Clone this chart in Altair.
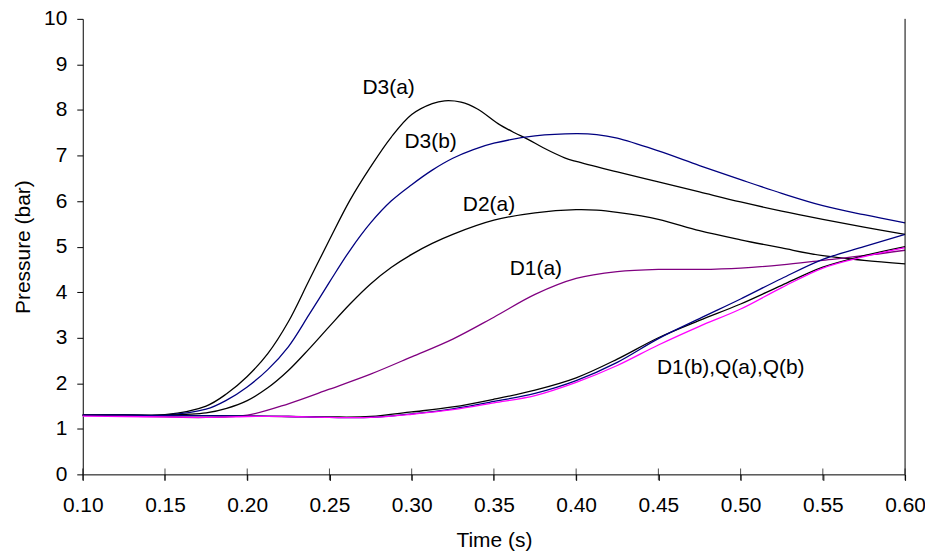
import altair as alt
import pandas as pd

# ---- data ----
T_D3A = [0.10, 0.125, 0.15, 0.175, 0.1875, 0.20, 0.2125, 0.225, 0.2375, 0.25, 0.2625, 0.275,
         0.2875, 0.30, 0.3125, 0.32, 0.33, 0.34, 0.3525, 0.3625, 0.371, 0.38, 0.393, 0.40,
         0.425, 0.45, 0.475, 0.50, 0.525, 0.55, 0.575, 0.60]
P_D3A = [1.30, 1.30, 1.31, 1.50, 1.77, 2.15, 2.65, 3.35, 4.25, 5.15, 6.02, 6.75,
         7.40, 7.90, 8.14, 8.20, 8.17, 8.02, 7.70, 7.50, 7.35, 7.17, 6.95, 6.87,
         6.64, 6.42, 6.20, 5.98, 5.78, 5.60, 5.43, 5.27]

T_D3B = [0.10, 0.125, 0.15, 0.175, 0.1875, 0.20, 0.2125, 0.225, 0.2375, 0.25, 0.2625, 0.275,
         0.2875, 0.30, 0.3125, 0.325, 0.3375, 0.35, 0.375, 0.40, 0.4125, 0.425, 0.45, 0.475,
         0.50, 0.525, 0.55, 0.575, 0.60]
P_D3B = [1.30, 1.30, 1.30, 1.43, 1.63, 1.92, 2.30, 2.80, 3.50, 4.22, 4.92, 5.52,
         6.00, 6.36, 6.68, 6.94, 7.13, 7.27, 7.43, 7.48, 7.46, 7.38, 7.10, 6.78,
         6.47, 6.17, 5.90, 5.70, 5.52]

T_D2A = [0.10, 0.125, 0.15, 0.175, 0.1875, 0.20, 0.2125, 0.225, 0.2375, 0.25, 0.2625, 0.275,
         0.2875, 0.30, 0.3125, 0.325, 0.35, 0.375, 0.40, 0.4125, 0.425, 0.45, 0.475, 0.50,
         0.525, 0.55, 0.575, 0.60]
P_D2A = [1.30, 1.30, 1.30, 1.35, 1.45, 1.62, 1.90, 2.28, 2.75, 3.25, 3.74, 4.18,
         4.54, 4.83, 5.07, 5.27, 5.58, 5.74, 5.81, 5.80, 5.75, 5.60, 5.35, 5.15,
         4.97, 4.80, 4.70, 4.62]

T_LOW = [0.10, 0.125, 0.15, 0.175, 0.20, 0.225, 0.25, 0.275, 0.30, 0.325, 0.35, 0.375,
         0.40, 0.425, 0.45, 0.475, 0.50, 0.525, 0.55, 0.575, 0.60]
P_D1A = [1.30, 1.28, 1.26, 1.25, 1.30, 1.55, 1.87, 2.20, 2.58, 2.97, 3.45, 3.95,
         4.30, 4.45, 4.50, 4.50, 4.53, 4.60, 4.70, 4.80, 4.92]
P_QA = [1.30, 1.30, 1.29, 1.29, 1.28, 1.27, 1.26, 1.27, 1.37, 1.48, 1.65, 1.85,
        2.12, 2.53, 3.00, 3.38, 3.74, 4.15, 4.55, 4.80, 5.00]
P_D1B = [1.30, 1.30, 1.29, 1.29, 1.28, 1.27, 1.25, 1.25, 1.33, 1.44, 1.60, 1.78,
         2.06, 2.46, 2.98, 3.42, 3.85, 4.30, 4.72, 5.00, 5.27]
P_QB = [1.28, 1.27, 1.26, 1.25, 1.27, 1.27, 1.25, 1.25, 1.32, 1.42, 1.57, 1.73,
        2.02, 2.39, 2.84, 3.25, 3.63, 4.10, 4.53, 4.78, 4.98]

SERIES = ["D1(b)", "Q(b)", "Q(a)", "D1(a)", "D2(a)", "D3(b)", "D3(a)"]
COLORS = ["#000080", "#FF00FF", "#000000", "#800080", "#000000", "#000080", "#000000"]

LABELS = ["D3(a)", "D3(b)", "D2(a)", "D1(a)", "D1(b),Q(a),Q(b)"]
LABEL_T = [0.286, 0.3115, 0.347, 0.3755, 0.494]
LABEL_P = [8.49, 7.29, 5.91, 4.5, 2.34]

XTICKS = [0.10, 0.15, 0.20, 0.25, 0.30, 0.35, 0.40, 0.45, 0.50, 0.55, 0.60]
YTICKS = [0, 1, 2, 3, 4, 5, 6, 7, 8, 9, 10]

# ---- build tables ----
rows = []
def add(name, ts, ps):
    for t, p in zip(ts, ps):
        rows.append({"series": name, "t": t, "p": p})

add("D3(a)", T_D3A, P_D3A)
add("D3(b)", T_D3B, P_D3B)
add("D2(a)", T_D2A, P_D2A)
add("D1(a)", T_LOW, P_D1A)
add("Q(a)", T_LOW, P_QA)
add("D1(b)", T_LOW, P_D1B)
add("Q(b)", T_LOW, P_QB)
df = pd.DataFrame(rows)

lab = pd.DataFrame({"text": LABELS, "t": LABEL_T, "p": LABEL_P})
xt = pd.DataFrame({"t": XTICKS, "p": [YTICKS[0]] * len(XTICKS)})
border = pd.DataFrame({"t": [XTICKS[-1]], "p": [YTICKS[0]], "p2": [YTICKS[-1]]})

FONT = "Liberation Sans"
FS = 21
xscale = alt.Scale(domain=[XTICKS[0], XTICKS[-1]], nice=False, zero=False)
yscale = alt.Scale(domain=[YTICKS[0], YTICKS[-1]], nice=False)

lines = alt.Chart(df).mark_line(strokeWidth=1.3, interpolate="catmull-rom").encode(
    x=alt.X("t:Q", scale=xscale,
            axis=alt.Axis(title="Time (s)", values=XTICKS, format=".2f", grid=False,
                          domainColor="black", tickColor="black", tickSize=6,
                          labelPadding=14, labelFontSize=FS, labelColor="black",
                          labelFlush=False, labelOverlap=False,
                          titleFontSize=FS, titleFontWeight="normal", titleColor="black",
                          titlePadding=14, labelFont=FONT, titleFont=FONT)),
    y=alt.Y("p:Q", scale=yscale,
            axis=alt.Axis(title="Pressure (bar)", values=YTICKS, grid=False,
                          domainColor="black", tickColor="black", tickSize=6,
                          labelPadding=10, labelFontSize=FS, labelColor="black",
                          labelFlush=False, labelOverlap=False,
                          titleFontSize=FS, titleFontWeight="normal", titleColor="black",
                          titlePadding=10, labelFont=FONT, titleFont=FONT)),
    color=alt.Color("series:N", scale=alt.Scale(domain=SERIES, range=COLORS), legend=None),
    detail="series:N",
)

texts = alt.Chart(lab).mark_text(font=FONT, fontSize=FS, color="black").encode(
    x=alt.X("t:Q", scale=xscale), y=alt.Y("p:Q", scale=yscale), text="text:N"
)

ticks_up = alt.Chart(xt).mark_tick(orient="vertical", size=12, thickness=1, color="black").encode(
    x=alt.X("t:Q", scale=xscale), y=alt.Y("p:Q", scale=yscale)
)

right = alt.Chart(border).mark_rule(color="black", strokeWidth=1).encode(
    x=alt.X("t:Q", scale=xscale), y=alt.Y("p:Q", scale=yscale), y2="p2:Q"
)

chart = alt.layer(lines, right, ticks_up, texts).properties(
    width=825, height=457,
    autosize=alt.AutoSizeParams(type="none"),
    padding={"left": 75, "top": 10, "right": 20, "bottom": 80},
    background="white",
).configure_view(stroke=None)

chart.save("out.html", embed_options={"renderer": "svg", "actions": False})
